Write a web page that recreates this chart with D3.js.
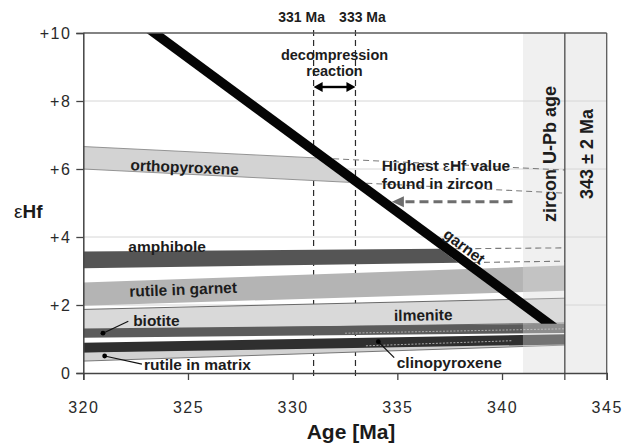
<!DOCTYPE html>
<html><head><meta charset="utf-8">
<script src="https://cdn.jsdelivr.net/npm/d3@7"></script>
<style>
html,body{margin:0;padding:0;background:#fff;}
svg{display:block;font-family:"Liberation Sans",Arial,Helvetica,sans-serif;}
</style></head><body>
<svg id="chart" width="629" height="443"></svg>
<script>
// Axis ticks
const ageTicks = [320, 325, 330, 335, 340, 345];
const ehfTicks = [0, 2, 4, 6, 8, 10];
const ehfTickLabels = ["0", "+2", "+4", "+6", "+8", "+10"];
const gridEhf = [2, 4, 6, 8];

// Hf evolution bands of the minerals: εHf range at 320 Ma and at 343 Ma
const bandAges = [320, 343];
const bandNames = ["rutile in matrix", "clinopyroxene", "ilmenite", "biotite", "rutile in garnet", "amphibole", "orthopyroxene"];
const bandLow320 = [0.35, 0.60, 1.25, 1.04, 1.98, 3.08, 6.00];
const bandHigh320 = [0.62, 0.89, 1.87, 1.31, 2.66, 3.57, 6.66];
const bandLow343 = [0.82, 0.84, 1.47, 1.18, 2.42, 3.29, 5.29];
const bandHigh343 = [1.00, 1.14, 2.20, 1.45, 3.16, 3.68, 5.97];
// bands that stop at the garnet line and continue as dashed edges
const bandsCutByGarnet = ["orthopyroxene", "amphibole"];

// Garnet evolution line (centre line end points)
const garnetAge = [323.4, 342.25];
const garnetEhf = [10, 1.45];

// Zircon U-Pb age and decompression reaction interval
const zirconAge = 343, zirconError = 2;
const decompressionAges = [331, 333];

// Faint dashed overlap edges inside the dark bands
const overlapEdgeAges = [[332.5, 343], [333.5, 340.5]];
const overlapEdgeEhf = [[1.17, 1.30], [0.80, 0.95]];

const bandStyle = {
  "rutile in matrix": {fill: "#d2d2d2", stroke: "#6a6a6a"},
  "clinopyroxene": {fill: "#2f2f2f", stroke: "none"},
  "ilmenite": {fill: "#d9d9d9", stroke: "#5a5a5a"},
  "biotite": {fill: "#5b5b5b", stroke: "none"},
  "rutile in garnet": {fill: "#b4b4b4", stroke: "none"},
  "amphibole": {fill: "#555555", stroke: "none"},
  "orthopyroxene": {fill: "#d3d3d3", stroke: "#8a8a8a"}
};

const svg = d3.select("#chart");
const x = d3.scaleLinear().domain([320, 345]).range([83.3, 606.7]);
const y = d3.scaleLinear().domain([0, 10]).range([373, 33]);
const line = d3.line().x(d => x(d[0])).y(d => y(d[1]));

// garnet band geometry
const garnetHalf = 0.38; // half width of the garnet band, in Ma
const gSlope = (garnetEhf[1] - garnetEhf[0]) / (garnetAge[1] - garnetAge[0]);
function meetGarnet(e0, e1, offset) {
  // intersection of a band edge with a garnet edge shifted by offset (Ma)
  const q = (e1 - e0) / (bandAges[1] - bandAges[0]);
  const a0 = garnetAge[0] + offset;
  const a = (garnetEhf[0] - gSlope * a0 - e0 + bandAges[0] * q) / (q - gSlope);
  return [a, e0 + q * (a - bandAges[0])];
}

// zircon age band right of 343 Ma
svg.append("rect")
  .attr("x", x(zirconAge)).attr("y", y(10))
  .attr("width", x(zirconAge + zirconError) - x(zirconAge))
  .attr("height", y(0) - y(10))
  .attr("fill", "#efefef");

// grid
svg.append("g").selectAll("line").data(gridEhf).join("line")
  .attr("x1", x(320)).attr("x2", x(345))
  .attr("y1", d => y(d)).attr("y2", d => y(d))
  .attr("stroke", "#d6d6d6").attr("stroke-width", 1);

// decompression interval dashed verticals
svg.append("g").selectAll("line").data(decompressionAges).join("line")
  .attr("x1", d => x(d)).attr("x2", d => x(d))
  .attr("y1", 30).attr("y2", y(0) + 6)
  .attr("stroke", "#2a2a2a").attr("stroke-width", 1.2)
  .attr("stroke-dasharray", "6,4");

// mineral bands
const bandG = svg.append("g");
const dashedEdges = [];
bandNames.forEach((name, i) => {
  const lo0 = bandLow320[i], hi0 = bandHigh320[i], lo1 = bandLow343[i], hi1 = bandHigh343[i];
  const st = bandStyle[name];
  let topPts, botPts;
  if (bandsCutByGarnet.includes(name)) {
    const tEnd = meetGarnet(hi0, hi1, -garnetHalf);
    const bEnd = meetGarnet(lo0, lo1, -garnetHalf);
    topPts = [[bandAges[0], hi0], tEnd];
    botPts = [[bandAges[0], lo0], bEnd];
    dashedEdges.push([meetGarnet(hi0, hi1, garnetHalf), [bandAges[1], hi1]]);
    dashedEdges.push([meetGarnet(lo0, lo1, garnetHalf), [bandAges[1], lo1]]);
  } else {
    topPts = [[bandAges[0], hi0], [bandAges[1], hi1]];
    botPts = [[bandAges[0], lo0], [bandAges[1], lo1]];
  }
  const poly = topPts.concat(botPts.slice().reverse());
  bandG.append("path").attr("d", line(poly) + "Z").attr("fill", st.fill);
  if (st.stroke !== "none") {
    [topPts, botPts].forEach(p => bandG.append("path").attr("d", line(p))
      .attr("fill", "none").attr("stroke", st.stroke).attr("stroke-width", 0.9));
  }
});

// faint overlap edges
overlapEdgeAges.forEach((ages, k) => {
  svg.append("path")
    .attr("d", line([[ages[0], overlapEdgeEhf[k][0]], [ages[1], overlapEdgeEhf[k][1]]]))
    .attr("fill", "none").attr("stroke", "#a8a8a8").attr("stroke-width", 1)
    .attr("stroke-dasharray", "2,1.5");
});

// zircon age band left of 343 Ma (translucent)
svg.append("rect")
  .attr("x", x(zirconAge - zirconError)).attr("y", y(10))
  .attr("width", x(zirconAge) - x(zirconAge - zirconError))
  .attr("height", y(0) - y(10))
  .attr("fill", "rgb(218,218,218)").attr("fill-opacity", 0.4);

// dashed continuation of the cut bands up to the zircon age
svg.append("g").selectAll("path").data(dashedEdges).join("path")
  .attr("d", d => line(d))
  .attr("fill", "none").attr("stroke", "#7a7a7a").attr("stroke-width", 1.1)
  .attr("stroke-dasharray", "6,4");

// garnet band
const gPoly = [
  [garnetAge[0] - garnetHalf, garnetEhf[0]],
  [garnetAge[0] + garnetHalf, garnetEhf[0]],
  [garnetAge[1] + garnetHalf, garnetEhf[1]],
  [garnetAge[1] - garnetHalf, garnetEhf[1]]
];
svg.append("path").attr("d", line(gPoly) + "Z").attr("fill", "#050505");

// frame and zircon age line
const frame = svg.append("g").attr("stroke", "#5a5a5a").attr("stroke-width", 1.3).attr("fill", "none");
frame.append("line").attr("x1", x(320)).attr("x2", x(345)).attr("y1", y(10)).attr("y2", y(10));
frame.append("line").attr("x1", x(345)).attr("x2", x(345)).attr("y1", y(10)).attr("y2", y(0));
svg.append("line").attr("x1", x(zirconAge)).attr("x2", x(zirconAge))
  .attr("y1", y(10)).attr("y2", y(0) + 7)
  .attr("stroke", "#4a4a4a").attr("stroke-width", 1.3);

// axes
const xAxis = svg.append("g").attr("transform", `translate(0,${y(0)})`)
  .call(d3.axisBottom(x).tickValues(ageTicks).tickFormat(d3.format("d")).tickSize(7).tickPadding(22));
const yAxis = svg.append("g").attr("transform", `translate(${x(320)},0)`)
  .call(d3.axisLeft(y).tickValues(ehfTicks).tickFormat((d, i) => ehfTickLabels[i]).tickSize(7).tickPadding(5));
[xAxis, yAxis].forEach(ax => {
  ax.select(".domain").attr("stroke", "#444").attr("stroke-width", 1.5);
  ax.selectAll(".tick line").attr("stroke", "#444").attr("stroke-width", 1.3);
  ax.selectAll(".tick text").attr("font-size", 16).attr("fill", "#2a2a2a")
    .attr("letter-spacing", "1.5px").attr("font-family", "'Liberation Sans', Arial, sans-serif");
});

svg.append("text").attr("x", 351).attr("y", 439)
  .attr("text-anchor", "middle").attr("font-size", 21).attr("font-weight", "bold")
  .attr("fill", "#1a1a1a").text("Age [Ma]");
const yl = svg.append("text").attr("x", 14).attr("y", 218).attr("font-size", 19).attr("fill", "#1a1a1a");
yl.append("tspan").text("ε");
yl.append("tspan").attr("font-weight", "bold").text("Hf");

// labels
const lab = svg.append("g").attr("font-weight", "bold").attr("fill", "#1c1c1c").attr("font-size", 15.5);
function label(t, age, ehf, rot, anchor) {
  lab.append("text")
    .attr("transform", `translate(${x(age)},${y(ehf)}) rotate(${rot || 0})`)
    .attr("dy", "0.35em").attr("text-anchor", anchor || "start").text(t);
}
label("orthopyroxene", 322.25, 6.12, 2.4);
label("amphibole", 322.15, 3.71, 0);
label("rutile in garnet", 322.2, 2.40, -2.2);
label("biotite", 322.38, 1.54, 0);
label("rutile in matrix", 322.9, 0.24, 0);
label("ilmenite", 334.84, 1.69, -0.8);
label("clinopyroxene", 334.97, 0.30, 0);
label("garnet", 338.2, 3.72, 37, "middle");

// pointers
const pointers = [
  [[320.94, 1.17], [322.15, 1.52]],
  [[321.02, 0.50], [322.8, 0.26]],
  [[334.09, 0.92], [334.85, 0.45]]
];
pointers.forEach(p => {
  svg.append("path").attr("d", line(p)).attr("stroke", "#111").attr("stroke-width", 1.2).attr("fill", "none");
  svg.append("circle").attr("cx", x(p[0][0])).attr("cy", y(p[0][1])).attr("r", 2.4).attr("fill", "#000");
});

// decompression annotation
const topNotes = svg.append("g").attr("font-weight", "bold").attr("fill", "#1c1c1c").attr("text-anchor", "middle");
topNotes.append("text").attr("x", x(decompressionAges[0]) - 12).attr("y", 22).attr("font-size", 14).text("331 Ma");
topNotes.append("text").attr("x", x(decompressionAges[1]) + 7).attr("y", 22).attr("font-size", 14).text("333 Ma");
const midAge = (decompressionAges[0] + decompressionAges[1]) / 2;
topNotes.append("text").attr("x", x(midAge)).attr("y", 60).attr("font-size", 14.5).text("decompression");
topNotes.append("text").attr("x", x(midAge)).attr("y", 76).attr("font-size", 14.5).text("reaction");

const ay = 87, xa = x(decompressionAges[0]), xb = x(decompressionAges[1]);
svg.append("line").attr("x1", xa + 6).attr("x2", xb - 6).attr("y1", ay).attr("y2", ay)
  .attr("stroke", "#000").attr("stroke-width", 2.4);
svg.append("path").attr("d", `M${xa},${ay}L${xa + 9},${ay - 5}L${xa + 9},${ay + 5}Z`).attr("fill", "#000");
svg.append("path").attr("d", `M${xb},${ay}L${xb - 9},${ay - 5}L${xb - 9},${ay + 5}Z`).attr("fill", "#000");

// zircon annotation
const hz = svg.append("g").attr("font-weight", "bold").attr("fill", "#1c1c1c").attr("font-size", 15.5);
const h1 = hz.append("text").attr("x", x(334.26)).attr("y", 171);
h1.append("tspan").text("Highest ");
h1.append("tspan").attr("font-weight", "normal").text("ε");
h1.append("tspan").text("Hf value");
hz.append("text").attr("x", x(334.26)).attr("y", 189).text("found in zircon");

const arrowEhf = 5.04, arrowTip = 334.74, arrowTail = 340.5;
svg.append("line").attr("x1", x(arrowTail)).attr("x2", x(arrowTip) + 9)
  .attr("y1", y(arrowEhf)).attr("y2", y(arrowEhf))
  .attr("stroke", "#6e6e6e").attr("stroke-width", 3).attr("stroke-dasharray", "9,5");
svg.append("path")
  .attr("d", `M${x(arrowTip)},${y(arrowEhf)}L${x(arrowTip) + 12},${y(arrowEhf) - 5.5}L${x(arrowTip) + 12},${y(arrowEhf) + 5.5}Z`)
  .attr("fill", "#6e6e6e");

svg.append("text").attr("transform", `translate(556,154) rotate(-90)`)
  .attr("text-anchor", "middle").attr("font-weight", "bold").attr("font-size", 18)
  .attr("fill", "#1c1c1c").text("zircon U-Pb age");
svg.append("text").attr("transform", `translate(593,154) rotate(-90)`)
  .attr("text-anchor", "middle").attr("font-weight", "bold").attr("font-size", 18)
  .attr("fill", "#1c1c1c").text("343 ± 2 Ma");
</script>
</body></html>
